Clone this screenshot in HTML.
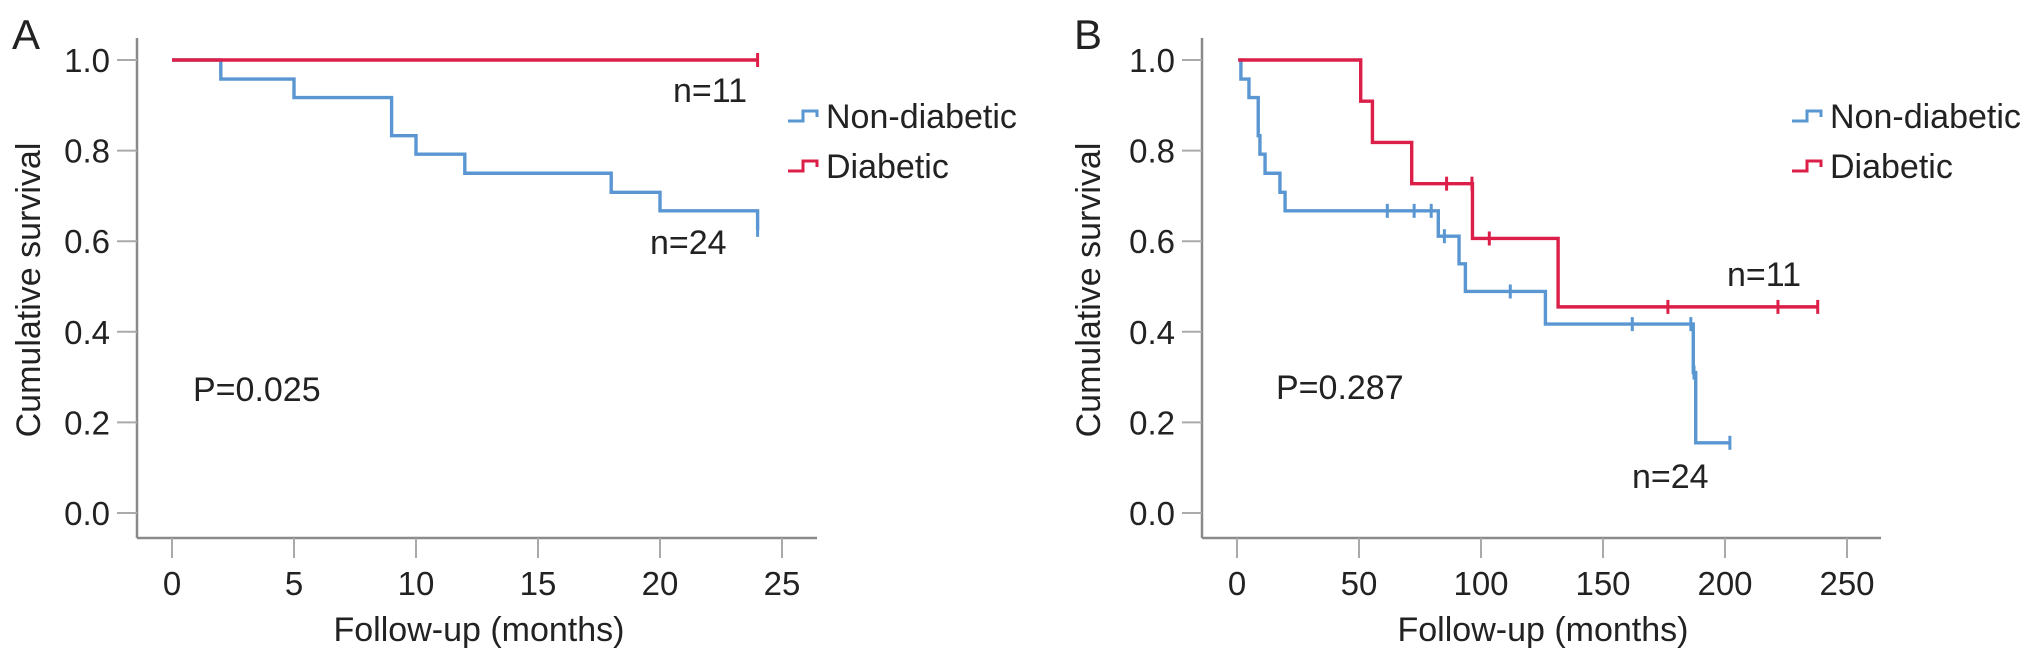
<!DOCTYPE html>
<html><head><meta charset="utf-8"><style>
html,body{margin:0;padding:0;background:#fff}
svg{display:block}
text{font-family:"Liberation Sans",Arial,sans-serif;fill:#222}
</style></head><body>
<svg id="chart" width="2032" height="660" viewBox="0 0 2032 660" xmlns="http://www.w3.org/2000/svg"></svg>
<script>
// Panel A data
const aXTicks = [0, 5, 10, 15, 20, 25];
const aNonTimes = [0, 2, 5, 9, 10, 12, 18, 20, 24];
const aNonSurv = [1.0, 0.958, 0.917, 0.833, 0.792, 0.75, 0.708, 0.667, 0.625];
const aNonCensor = [24];
const aDiaTimes = [0];
const aDiaSurv = [1.0];
const aDiaEnd = 24;
const aNonEnd = 24;
const aDiaCensor = [24];
// Panel B data
const bXTicks = [0, 50, 100, 150, 200, 250];
const bNonTimes = [0.5, 1.6, 4.9, 8.7, 9.4, 11.5, 17.6, 19.7, 82.5, 91, 93.6, 126.4, 187, 188];
const bNonSurv = [1.0, 0.958, 0.917, 0.833, 0.792, 0.75, 0.708, 0.667, 0.611, 0.55, 0.489, 0.417, 0.31, 0.155];
const bNonCensor = [61.6, 72.6, 79.6, 85, 112, 162, 186, 187.3, 202];
const bNonEnd = 202;
const bDiaTimes = [0.5, 50.7, 55.5, 71.6, 96.5, 131.6];
const bDiaSurv = [1.0, 0.909, 0.818, 0.727, 0.606, 0.455];
const bDiaCensor = [85.9, 96.3, 103.4, 176.6, 221.7, 238];
const bDiaEnd = 238;
const yTicks = [0.0, 0.2, 0.4, 0.6, 0.8, 1.0];

const NS = "http://www.w3.org/2000/svg";
const svg = document.getElementById('chart');
const BLUE = "#5a97d2", RED = "#dc1f48", AX = "#8a8a8a";
function mk(tag, attrs, parent) {
  const e = document.createElementNS(NS, tag);
  for (const k in attrs) e.setAttribute(k, attrs[k]);
  (parent || svg).appendChild(e);
  return e;
}
const Y0 = 513, YH = 453;
function yS(v) { return Y0 - v * YH; }

function panel(opt) {
  const g = mk('g', {});
  
  
  const xS = v => opt.x0 + v * opt.ppu;
  const ya = mk('line', {x1: opt.axX, y1: 38, x2: opt.axX, y2: 538, stroke: AX, 'stroke-width': 2.5}, g);
  
  
  const xa = mk('line', {x1: opt.axX, y1: 538, x2: opt.axEnd, y2: 538, stroke: AX, 'stroke-width': 2.5}, g);
  
  
  yTicks.forEach(v => {
    const t = mk('line', {x1: opt.axX - 20, y1: yS(v), x2: opt.axX, y2: yS(v), stroke: "#aaa", 'stroke-width': 2}, g);
    
    
    const l = mk('text', {x: opt.axX - 27, y: yS(v) + 12, 'text-anchor': 'end', 'font-size': 33}, g);
    l.textContent = v.toFixed(1);
    
    
  });
  opt.xTicks.forEach(v => {
    const t = mk('line', {x1: xS(v), y1: 538, x2: xS(v), y2: 558, stroke: "#aaa", 'stroke-width': 2}, g);
    
    
    const l = mk('text', {x: xS(v), y: 595, 'text-anchor': 'middle', 'font-size': 33}, g);
    l.textContent = v;
    
    
  });
  const xt = mk('text', {x: opt.xTitleX, y: 641, 'text-anchor': 'middle', 'font-size': 34}, g);
  xt.textContent = 'Follow-up (months)';
  
  
  const yt = mk('text', {x: 0, y: 0, 'text-anchor': 'middle', 'font-size': 34, transform: `translate(${opt.yTitleX},290) rotate(-90)`}, g);
  yt.textContent = 'Cumulative survival';
  
  
  const pl = mk('text', {x: opt.letterX, y: 49, 'font-size': 42}, g);
  pl.textContent = opt.letter;
  
  

  function curve(times, surv, end, censor, color, nm) {
    let d = `M${xS(times[0])},${yS(surv[0])}`;
    for (let i = 1; i < times.length; i++) {
      d += ` H${xS(times[i])} V${yS(surv[i])}`;
    }
    d += ` H${xS(end)}`;
    const p = mk('path', {d: d, fill: 'none', stroke: color, 'stroke-width': 3.4}, g);
    
    
    censor.forEach(c => {
      let s = surv[0];
      for (let i = 0; i < times.length; i++) if (times[i] <= c) s = surv[i];
      const m = mk('line', {x1: xS(c), y1: yS(s) - 7, x2: xS(c), y2: yS(s) + 7, stroke: color, 'stroke-width': 3}, g);
      
      
    });
  }
  curve(opt.nonT, opt.nonS, opt.nonEnd, opt.nonC, BLUE, 'non-diabetic');
  curve(opt.diaT, opt.diaS, opt.diaEnd, opt.diaC, RED, 'diabetic');

  [['Non-diabetic', BLUE, 116], ['Diabetic', RED, 166]].forEach(([lab, col, y]) => {
    const lg = mk('g', {}, g);
    
    
    mk('path', {d: `M${opt.legX},${y + 5} h15 v-10 h14 v6`, fill: 'none', stroke: col, 'stroke-width': 3}, lg);
    const t = mk('text', {x: opt.legX + 38, y: y + 12, 'font-size': 34}, lg);
    t.textContent = lab;
  });
  [[opt.n11, 'n=11'], [opt.n24, 'n=24']].forEach(([pos, s]) => {
    const t = mk('text', {x: pos[0], y: pos[1] + 12, 'font-size': 34}, g);
    t.textContent = s;
    
    
  });
  const pv = mk('text', {x: opt.pPos[0], y: opt.pPos[1] + 12, 'font-size': 34}, g);
  pv.textContent = opt.p;
  
  
}

panel({name: 'panel-a', letter: 'A', letterX: 12, x0: 172, ppu: 24.4, axX: 137, axEnd: 817,
  xTicks: aXTicks, xTitleX: 479, yTitleX: 40,
  nonT: aNonTimes, nonS: aNonSurv, nonEnd: aNonEnd, nonC: aNonCensor,
  diaT: aDiaTimes, diaS: aDiaSurv, diaEnd: aDiaEnd, diaC: aDiaCensor,
  legX: 788, n11: [673, 90], n24: [650, 242], pPos: [193, 389], p: 'P=0.025'});
panel({name: 'panel-b', letter: 'B', letterX: 1074, x0: 1237, ppu: 2.44, axX: 1202, axEnd: 1881,
  xTicks: bXTicks, xTitleX: 1543, yTitleX: 1100,
  nonT: bNonTimes, nonS: bNonSurv, nonEnd: bNonEnd, nonC: bNonCensor,
  diaT: bDiaTimes, diaS: bDiaSurv, diaEnd: bDiaEnd, diaC: bDiaCensor,
  legX: 1792, n11: [1727, 274], n24: [1632, 476], pPos: [1276, 387], p: 'P=0.287'});
</script>
</body></html>
